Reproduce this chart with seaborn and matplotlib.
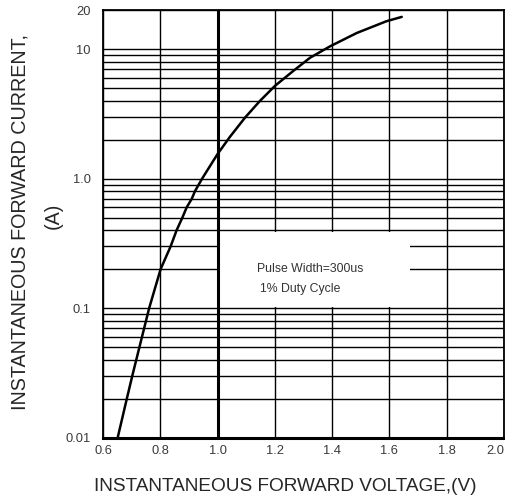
import matplotlib
matplotlib.use("Agg")
import matplotlib.pyplot as plt
import matplotlib.patches as mpatches
from matplotlib.ticker import FixedLocator, LogLocator, NullFormatter
import pandas as pd
import seaborn as sns

# forward voltage (V) vs forward current (A)
voltage = [0.651, 0.683, 0.702, 0.727, 0.761, 0.801, 0.836,
           0.857, 0.877, 0.892, 0.910, 0.921, 0.946, 1.000, 1.043, 1.096, 1.148,
           1.200, 1.264, 1.323, 1.393, 1.486, 1.590, 1.643]
current = [0.01, 0.02, 0.03, 0.05, 0.1, 0.2, 0.3,
           0.4, 0.5, 0.6, 0.7, 0.8, 1.0, 1.55, 2.1, 2.96, 3.98,
           5.19, 6.77, 8.57, 10.5, 13.3, 16.4, 17.7]

x_ticks = [0.6, 0.8, 1.0, 1.2, 1.4, 1.6, 1.8, 2.0]
x_tick_labels = ["0.6", "0.8", "1.0", "1.2", "1.4", "1.6", "1.8", "2.0"]
y_ticks = [0.01, 0.1, 1.0, 10, 20]
y_tick_labels = ["0.01", "0.1", "1.0", "10", "20"]

note_lines = ["Pulse Width=300us", "1% Duty Cycle"]

sns.set_style("white")
plt.rcParams["font.family"] = ["Liberation Sans", "DejaVu Sans"]

df = pd.DataFrame({"voltage": voltage, "current": current})

fig = plt.figure(figsize=(5.06, 5.01), dpi=100)
ax = fig.add_axes([0.2036, 0.126, 0.7924, 0.854])

ax.set_yscale("log")
ax.set_xlim(0.6, 2.0)
ax.set_ylim(0.01, 20)

# grid
ax.xaxis.set_major_locator(FixedLocator(x_ticks))
ax.yaxis.set_major_locator(FixedLocator(y_ticks))
ax.yaxis.set_minor_locator(LogLocator(base=10, subs=[2, 3, 4, 5, 6, 7, 8, 9]))
ax.yaxis.set_minor_formatter(NullFormatter())
ax.set_axisbelow(True)
ax.grid(which="major", axis="both", color="black", linewidth=1.0)
ax.grid(which="minor", axis="y", color="black", linewidth=1.0)

# blank panel holding the note
ax.add_patch(mpatches.Rectangle((1.0, 0.103), 0.672, 0.282, facecolor="white",
                                edgecolor="none", zorder=1))
ax.axvline(1.0, color="black", linewidth=2.2, zorder=1.5)

sns.lineplot(data=df, x="voltage", y="current", sort=False, estimator=None,
             color="black", linewidth=1.8, ax=ax, zorder=3)

ax.text(1.323, 0.2, note_lines[0], ha="center", va="center", fontsize=8.8,
        color="#333333", zorder=4)
ax.text(1.29, 0.14, note_lines[1], ha="center", va="center", fontsize=8.8,
        color="#333333", zorder=4)

ax.set_xticks(x_ticks)
ax.set_xticklabels(x_tick_labels)
ax.get_xticklabels()[-1].set_horizontalalignment("right")
ax.set_yticks(y_ticks)
ax.set_yticklabels(y_tick_labels)
ax.tick_params(axis="both", which="both", length=0, labelsize=9.3,
               labelcolor="#3a3a3a")
ax.tick_params(axis="x", pad=5)
ax.tick_params(axis="y", pad=9)

for side in ["top", "right", "left"]:
    ax.spines[side].set_color("black")
    ax.spines[side].set_linewidth(1.3)
ax.spines["bottom"].set_color("black")
ax.spines["bottom"].set_linewidth(2.2)

ax.set_xlabel("")
ax.set_ylabel("")
fig.text(0.564, 0.028, "INSTANTANEOUS FORWARD VOLTAGE,(V)", ha="center",
         va="center", fontsize=13.7)
fig.text(0.04, 0.557, "INSTANTANEOUS FORWARD CURRENT,", rotation=90,
         ha="center", va="center", fontsize=14.2)
fig.text(0.105, 0.57, "(A)", rotation=90, ha="center", va="center", fontsize=14.2)

fig.savefig("out.png", dpi=100)
